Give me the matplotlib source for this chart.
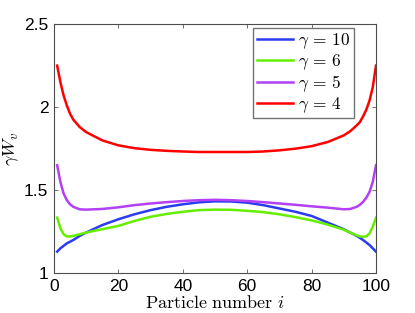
import matplotlib
matplotlib.use("Agg")
import matplotlib.pyplot as plt
from matplotlib.ticker import FuncFormatter

plt.rcParams["mathtext.fontset"] = "cm"
plt.rcParams["font.family"] = ["Liberation Sans", "DejaVu Sans"]

particle = [1, 2, 3, 4, 5, 6, 8, 10, 15, 20, 25, 30, 35, 40, 45, 50,
            55, 60, 65, 70, 75, 80, 85, 90, 92, 94, 95, 96, 97, 98, 99, 100]

w_g10 = [1.13, 1.15, 1.165, 1.18, 1.19, 1.20, 1.225, 1.245, 1.29, 1.325, 1.355, 1.38,
         1.40, 1.415, 1.427, 1.433, 1.432, 1.425, 1.41, 1.39, 1.37, 1.345, 1.305, 1.265,
         1.245, 1.225, 1.213, 1.20, 1.185, 1.17, 1.15, 1.13]
w_g6 = [1.335, 1.27, 1.235, 1.222, 1.222, 1.225, 1.235, 1.245, 1.265, 1.285, 1.315, 1.34,
        1.357, 1.37, 1.38, 1.383, 1.382, 1.376, 1.368, 1.355, 1.338, 1.318, 1.293, 1.262,
        1.245, 1.228, 1.222, 1.22, 1.222, 1.24, 1.28, 1.335]
w_g5 = [1.65, 1.55, 1.48, 1.44, 1.415, 1.40, 1.385, 1.383, 1.387, 1.397, 1.41, 1.42,
        1.428, 1.435, 1.44, 1.442, 1.44, 1.435, 1.428, 1.42, 1.412, 1.403, 1.395, 1.385,
        1.387, 1.40, 1.412, 1.43, 1.455, 1.49, 1.55, 1.65]
w_g4 = [2.25, 2.15, 2.07, 2.01, 1.96, 1.925, 1.88, 1.85, 1.80, 1.77, 1.753, 1.743,
        1.737, 1.733, 1.73, 1.73, 1.73, 1.73, 1.733, 1.74, 1.75, 1.765, 1.79, 1.83,
        1.855, 1.89, 1.91, 1.945, 1.985, 2.04, 2.12, 2.25]

series = [
    (w_g10, r"$\gamma\, =\, 10$", "#2a3cf0"),
    (w_g6, r"$\gamma\, =\, 6$", "#66ee00"),
    (w_g5, r"$\gamma\, =\, 5$", "#b340f5"),
    (w_g4, r"$\gamma\, =\, 4$", "#ff0000"),
]

fig = plt.figure(figsize=(4.15, 3.13), dpi=100)
ax = fig.add_axes([0.130, 0.127, 0.776, 0.796])

for vals, lab, col in series:
    ax.plot(particle, vals, color=col, linewidth=1.8, label=lab)

ax.set_xlim(0, 100)
ax.set_ylim(1, 2.5)
ax.set_xticks([0, 20, 40, 60, 80, 100])
ax.set_yticks([1, 1.5, 2, 2.5])
ax.yaxis.set_major_formatter(FuncFormatter(lambda v, p: "%g" % v))
ax.tick_params(direction="in", top=True, right=True, length=3, width=0.6,
               color="0.35", labelsize=12.5, pad=4)
for s in ax.spines.values():
    s.set_color("0.3")
    s.set_linewidth(0.8)

ax.set_xlabel(r"$\mathrm{Particle\ number}\ i$", fontsize=13, labelpad=1)
ax.set_ylabel(r"$\gamma W_v$", fontsize=13, labelpad=2)

leg = ax.legend(loc="upper right", bbox_to_anchor=(0.932, 0.984), borderaxespad=0,
                fontsize=12.5, handlelength=2.1, handletextpad=0.3, labelspacing=0.08,
                borderpad=0.2, fancybox=False, framealpha=1)
leg.get_frame().set_edgecolor("0.45")
leg.get_frame().set_linewidth(1.0)

fig.savefig("out.png", dpi=100)
